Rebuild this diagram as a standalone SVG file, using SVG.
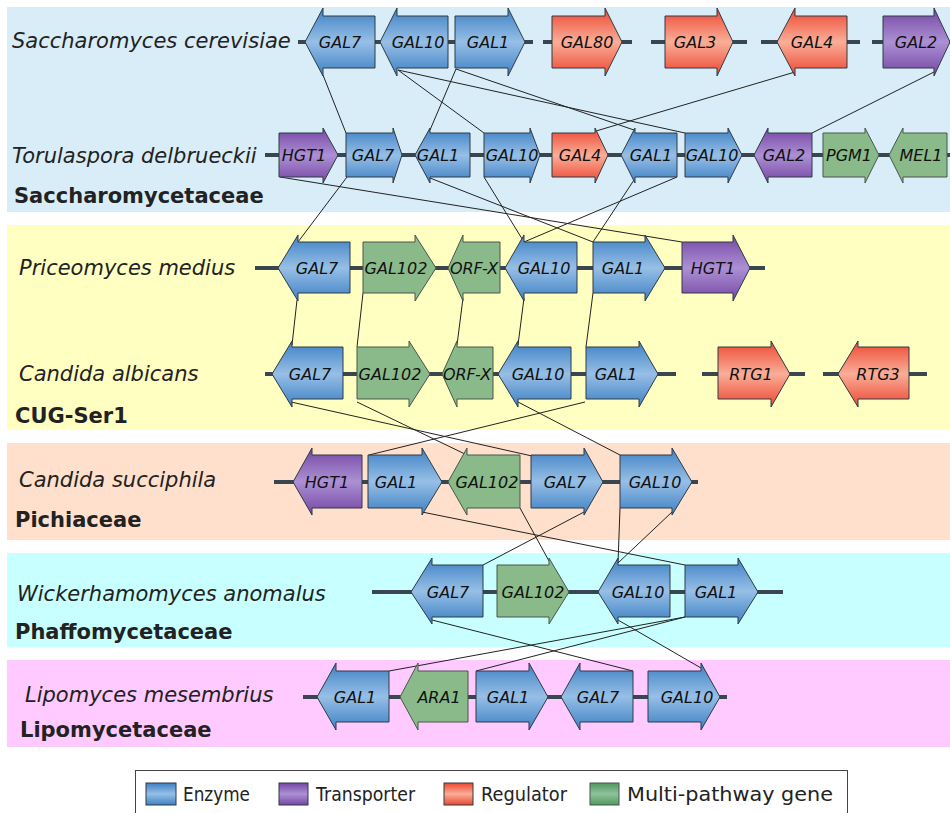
<svg xmlns="http://www.w3.org/2000/svg" width="950" height="813" viewBox="0 0 950 813">
<defs>
<linearGradient id="gB" x1="0" y1="0" x2="0" y2="1"><stop offset="0" stop-color="#3d80c4"/><stop offset="0.5" stop-color="#97bfe6"/><stop offset="1" stop-color="#3d80c4"/></linearGradient>
<linearGradient id="gR" x1="0" y1="0" x2="0" y2="1"><stop offset="0" stop-color="#ee4630"/><stop offset="0.5" stop-color="#f9ae98"/><stop offset="1" stop-color="#ee4630"/></linearGradient>
<linearGradient id="gP" x1="0" y1="0" x2="0" y2="1"><stop offset="0" stop-color="#7546a3"/><stop offset="0.5" stop-color="#ac90d4"/><stop offset="1" stop-color="#7546a3"/></linearGradient>
<linearGradient id="gG" x1="0" y1="0" x2="0" y2="1"><stop offset="0" stop-color="#4f9860"/><stop offset="0.5" stop-color="#8fc29b"/><stop offset="1" stop-color="#4f9860"/></linearGradient>
<style>
.e{fill:url(#gB);stroke:#2f3a44;stroke-width:1}
.r{fill:url(#gR);stroke:#2f3a44;stroke-width:1}
.p{fill:url(#gP);stroke:#2f3a44;stroke-width:1}
.g{fill:#8aba8a;stroke:#48564c;stroke-width:1}
.t{font-family:"DejaVu Sans",Verdana,sans-serif;font-style:italic;font-size:16px;fill:#111;text-anchor:middle}
.sp{font-family:"DejaVu Sans",Verdana,sans-serif;font-style:italic;font-size:21px;fill:#222}
.fam{font-family:"DejaVu Sans",Verdana,sans-serif;font-weight:bold;font-size:21px;fill:#222}
.bb{stroke:#3a464f;stroke-width:4;fill:none}
.c{stroke:#222;stroke-width:1;fill:none}
.lg{font-family:"DejaVu Sans",Verdana,sans-serif;font-size:20px;fill:#222}
</style>
</defs>
<rect width="950" height="813" fill="#ffffff"/>
<g id="bands">
<rect x="7" y="7" width="943" height="205" fill="#d8edf8"/>
<rect x="7" y="225" width="943" height="205" fill="#ffffc2"/>
<rect x="7" y="443" width="943" height="97" fill="#fee0cc"/>
<rect x="7" y="553" width="943" height="94" fill="#c8ffff"/>
<rect x="7" y="660" width="943" height="87" fill="#ffcaff"/>
</g>
<g id="labels">
<text class="sp" x="12" y="48">Saccharomyces cerevisiae</text>
<text class="sp" x="12" y="163">Torulaspora delbrueckii</text>
<text class="fam" x="14" y="203">Saccharomycetaceae</text>
<text class="sp" x="19" y="275">Priceomyces medius</text>
<text class="sp" x="19" y="381">Candida albicans</text>
<text class="fam" x="15" y="423">CUG-Ser1</text>
<text class="sp" x="19" y="487">Candida succiphila</text>
<text class="fam" x="15" y="527">Pichiaceae</text>
<text class="sp" x="17" y="601">Wickerhamomyces anomalus</text>
<text class="fam" x="15" y="639">Phaffomycetaceae</text>
<text class="sp" x="25" y="702">Lipomyces mesembrius</text>
<text class="fam" x="20" y="737">Lipomycetaceae</text>
</g>
<g id="backbones">
<path class="bb" d="M298,42H533M543,42H632M651,42H747M761,42H860M872,42H950"/>
<path class="bb" d="M265,155H950"/>
<path class="bb" d="M255,268H765"/>
<path class="bb" d="M265,374H676M702,374H805M823,374H927"/>
<path class="bb" d="M274,482H698"/>
<path class="bb" d="M372,592H783"/>
<path class="bb" d="M303,697H727"/>
</g>
<g id="connectors">
<path class="c" d="M323,75L346,133M398,70L484,133M398,70L685,133M456,69L430,130M456,69L634,130M795,72L596,131M934,72L812,133"/>
<path class="c" d="M280,177L682,242M347,177L298,242M430,178L593,242M484,177L524,242M634,180L593,242M677,177L524,242"/>
<path class="c" d="M297,300L292,345M363,293L357,347M463,298L457,345M524,298L518,345M593,293L586,347"/>
<path class="c" d="M291,402L532,456M357,402L467,455M518,402L620,455M585,402L369,455"/>
<path class="c" d="M422,512L685,565M520,508L549,561M584,512L483,565M620,508L618,563M672,512L618,563"/>
<path class="c" d="M432,620L633,671M618,620L701,668M685,617L389,671M685,617L476,671"/>
</g>
<g id="scer-GAL7"><path class="e" d="M375,16H323V8L305,42L323,76V68H375Z"/><text class="t" x="340" y="48">GAL7</text></g>
<g id="scer-GAL10"><path class="e" d="M448,16H397V8L380,42L397,76V68H448Z"/><text class="t" x="418" y="48">GAL10</text></g>
<g id="scer-GAL1"><path class="e" d="M455,16H508V8L525,42L508,76V68H455Z"/><text class="t" x="488" y="48">GAL1</text></g>
<g id="scer-GAL80"><path class="r" d="M552,16H605V8L622,42L605,76V68H552Z"/><text class="t" x="587" y="48">GAL80</text></g>
<g id="scer-GAL3"><path class="r" d="M665,16H717V8L733,42L717,76V68H665Z"/><text class="t" x="695" y="48">GAL3</text></g>
<g id="scer-GAL4"><path class="r" d="M847,16H795V8L777,42L795,76V68H847Z"/><text class="t" x="812" y="48">GAL4</text></g>
<g id="scer-GAL2"><path class="p" d="M883,16H934V8L950,42L934,76V68H883Z"/><text class="t" x="916" y="48">GAL2</text></g>
<g id="tdel-HGT1"><path class="p" d="M279,133H323V128L338,155L323,183V177H279Z"/><text class="t" x="304" y="161">HGT1</text></g>
<g id="tdel-GAL7"><path class="e" d="M346,133H393V128L402,155L393,183V177H346Z"/><text class="t" x="373" y="161">GAL7</text></g>
<g id="tdel-GAL1a"><path class="e" d="M470,133H430V128L415,155L430,183V177H470Z"/><text class="t" x="438" y="161">GAL1</text></g>
<g id="tdel-GAL10a"><path class="e" d="M484,133H530V128L540,155L530,183V177H484Z"/><text class="t" x="512" y="161">GAL10</text></g>
<g id="tdel-GAL4"><path class="r" d="M552,133H595V128L608,155L595,183V177H552Z"/><text class="t" x="580" y="161">GAL4</text></g>
<g id="tdel-GAL1b"><path class="e" d="M677,133H635V128L621,155L635,183V177H677Z"/><text class="t" x="651" y="161">GAL1</text></g>
<g id="tdel-GAL10b"><path class="e" d="M685,133H728V128L742,155L728,183V177H685Z"/><text class="t" x="712" y="161">GAL10</text></g>
<g id="tdel-GAL2"><path class="p" d="M812,133H768V128L754,155L768,183V177H812Z"/><text class="t" x="784" y="161">GAL2</text></g>
<g id="tdel-PGM1"><path class="g" d="M823,133H865V128L879,155L865,183V177H823Z"/><text class="t" x="849" y="161">PGM1</text></g>
<g id="tdel-MEL1"><path class="g" d="M947,133H903V128L889,155L903,183V177H947Z"/><text class="t" x="921" y="161">MEL1</text></g>
<g id="pmed-GAL7"><path class="e" d="M350,242H298V235L278,268L298,301V293H350Z"/><text class="t" x="317" y="274">GAL7</text></g>
<g id="pmed-GAL102"><path class="g" d="M363,242H415V235L436,268L415,301V293H363Z"/><text class="t" x="396" y="274">GAL102</text></g>
<g id="pmed-ORFX"><path class="g" d="M500,242H463V235L448,268L463,301V293H500Z"/><text class="t" x="474" y="274">ORF-X</text></g>
<g id="pmed-GAL10"><path class="e" d="M577,242H524V235L505,268L524,301V293H577Z"/><text class="t" x="544" y="274">GAL10</text></g>
<g id="pmed-GAL1"><path class="e" d="M593,242H645V235L665,268L645,301V293H593Z"/><text class="t" x="623" y="274">GAL1</text></g>
<g id="pmed-HGT1"><path class="p" d="M682,242H733V235L750,268L733,301V293H682Z"/><text class="t" x="713" y="274">HGT1</text></g>
<g id="calb-GAL7"><path class="e" d="M343,347H292V341L272,374L292,407V399H343Z"/><text class="t" x="310" y="380">GAL7</text></g>
<g id="calb-GAL102"><path class="g" d="M357,347H409V341L430,374L409,407V399H357Z"/><text class="t" x="390" y="380">GAL102</text></g>
<g id="calb-ORFX"><path class="g" d="M493,347H457V341L442,374L457,407V399H493Z"/><text class="t" x="467" y="380">ORF-X</text></g>
<g id="calb-GAL10"><path class="e" d="M571,347H518V341L498,374L518,407V399H571Z"/><text class="t" x="538" y="380">GAL10</text></g>
<g id="calb-GAL1"><path class="e" d="M586,347H639V341L658,374L639,407V399H586Z"/><text class="t" x="616" y="380">GAL1</text></g>
<g id="calb-RTG1"><path class="r" d="M718,347H771V341L790,374L771,407V399H718Z"/><text class="t" x="751" y="380">RTG1</text></g>
<g id="calb-RTG3"><path class="r" d="M909,347H858V341L838,374L858,407V399H909Z"/><text class="t" x="878" y="380">RTG3</text></g>
<g id="csuc-HGT1"><path class="p" d="M362,455H312V448L293,482L312,515V508H362Z"/><text class="t" x="327" y="488">HGT1</text></g>
<g id="csuc-GAL1"><path class="e" d="M368,455H422V448L442,482L422,515V508H368Z"/><text class="t" x="396" y="488">GAL1</text></g>
<g id="csuc-GAL102"><path class="g" d="M520,455H467V448L448,482L467,515V508H520Z"/><text class="t" x="487" y="488">GAL102</text></g>
<g id="csuc-GAL7"><path class="e" d="M531,455H584V448L603,482L584,515V508H531Z"/><text class="t" x="565" y="488">GAL7</text></g>
<g id="csuc-GAL10"><path class="e" d="M620,455H672V448L692,482L672,515V508H620Z"/><text class="t" x="655" y="488">GAL10</text></g>
<g id="wano-GAL7"><path class="e" d="M483,565H432V558L411,592L432,624V617H483Z"/><text class="t" x="448" y="598">GAL7</text></g>
<g id="wano-GAL102"><path class="g" d="M497,565H549V558L569,592L549,624V617H497Z"/><text class="t" x="533" y="598">GAL102</text></g>
<g id="wano-GAL10"><path class="e" d="M670,565H618V558L598,592L618,624V617H670Z"/><text class="t" x="638" y="598">GAL10</text></g>
<g id="wano-GAL1"><path class="e" d="M685,565H738V558L758,592L738,624V617H685Z"/><text class="t" x="716" y="598">GAL1</text></g>
<g id="lmes-GAL1a"><path class="e" d="M389,671H336V663L317,697L336,730V722H389Z"/><text class="t" x="355" y="703">GAL1</text></g>
<g id="lmes-ARA1"><path class="g" d="M468,671H418V663L400,697L418,730V722H468Z"/><text class="t" x="439" y="703">ARA1</text></g>
<g id="lmes-GAL1b"><path class="e" d="M476,671H529V663L548,697L529,730V722H476Z"/><text class="t" x="508" y="703">GAL1</text></g>
<g id="lmes-GAL7"><path class="e" d="M633,671H580V663L561,697L580,730V722H633Z"/><text class="t" x="598" y="703">GAL7</text></g>
<g id="lmes-GAL10"><path class="e" d="M648,671H701V663L720,697L701,730V722H648Z"/><text class="t" x="687" y="703">GAL10</text></g>
<g id="legend">
<rect x="135.5" y="770.5" width="712" height="44" fill="#ffffff" stroke="#444" stroke-width="1"/>
<rect x="146" y="783" width="30" height="22" fill="url(#gB)" stroke="#2f3a44"/>
<text class="lg" x="183" y="801" textLength="67" lengthAdjust="spacingAndGlyphs">Enzyme</text>
<rect x="279" y="783" width="29" height="22" fill="url(#gP)" stroke="#2f3a44"/>
<text class="lg" x="316" y="801" textLength="99" lengthAdjust="spacingAndGlyphs">Transporter</text>
<rect x="444" y="783" width="29" height="22" fill="url(#gR)" stroke="#2f3a44"/>
<text class="lg" x="481" y="801" textLength="86" lengthAdjust="spacingAndGlyphs">Regulator</text>
<rect x="590" y="783" width="29" height="22" fill="url(#gG)" stroke="#48564c"/>
<text class="lg" x="627" y="801" textLength="206" lengthAdjust="spacingAndGlyphs">Multi-pathway gene</text>
</g>
</svg>
